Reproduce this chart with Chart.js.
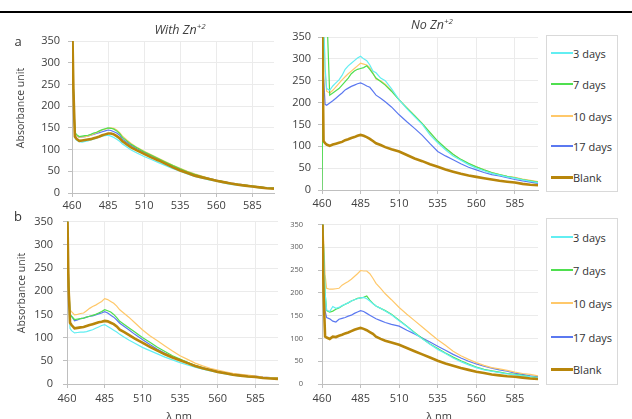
<!DOCTYPE html>
<html><head><meta charset="utf-8">
<script src="https://cdn.jsdelivr.net/npm/chart.js@4.4.0/dist/chart.umd.min.js"></script>
<style>
html,body{margin:0;padding:0;background:#fff;overflow:hidden;width:632px;height:419px;font-family:"Open Sans",sans-serif;color:#333}
#root{position:relative;width:632px;height:419px;overflow:hidden}
canvas{position:absolute}
.t{position:absolute;transform:translate(-50%,-50%);white-space:nowrap;line-height:1}
.ttl{font-style:italic;font-size:12.5px;color:#404040}
.ttl sup{font-size:8px;vertical-align:5px}
.pl{font-size:13px;color:#333}
.yt{font-size:10.5px;color:#404040;transform:translate(-50%,-50%) rotate(-90deg)}
.xt{font-size:11px;color:#404040}
.lg{position:absolute;border:1px solid #d9d9d9;box-sizing:border-box;background:#fff}
.li{position:absolute;left:4px;height:14px;display:flex;align-items:center;font-size:11px;color:#333;white-space:nowrap}
.li i{display:inline-block;width:22px;margin-right:0}
.rule{position:absolute;left:0;top:11px;width:632px;height:2px;background:#000}
</style></head><body>
<div id="root"><div class="rule"></div></div>
<script>
// ---------- data ----------
const wavelengths = [460,461,462,463,465,467,469,471,473,475,477,479,481,483,485,487,489,491,493,495,498,501,505,510,515,520,525,530,535,540,545,550,555,560,565,570,575,580,585,590,595,600];
const xTicks = [460,485,510,535,560,585];
const seriesNames = ['3 days','7 days','10 days','17 days','Blank'];

// a) With Zn+2
const withZnA_3d  = [420,230,128,122,118,117,119,120,122,124,126,129,131,132,133,131,128,124,119,113,106,99,92,84,77,70,63,56,50,44,38,34,30,27,23,20,18,16,14,12,11,10];
const withZnA_7d  = [420,240,140,135,130,131,132,133,135,138,140,143,146,148,150,149,147,143,137,128,120,112,104,95,87,79,71,63,56,49,43,38,33,29,26,22,20,18,16,14,12,11];
const withZnA_10d = [420,240,138,133,128,129,130,131,133,136,139,142,145,147,149,150,149,145,139,131,122,114,105,96,88,80,72,64,57,50,44,39,34,30,26,23,21,18,16,14,12,11];
const withZnA_17d = [420,240,137,132,128,129,130,131,133,135,137,139,141,143,145,144,141,138,133,124,117,110,102,94,86,78,70,62,55,49,43,38,34,30,26,23,21,18,16,14,12,11];
const withZnA_blank=[420,235,130,125,120,121,122,123,124,126,128,130,133,135,137,137,135,131,126,119,112,105,98,90,82,75,67,59,52,46,40,36,32,28,25,22,19,17,15,13,11,10];

// a) No Zn+2
const noZnA_3d  = [420,400,280,232,228,238,245,252,262,276,284,290,296,302,306,300,296,286,272,268,256,250,232,206,186,168,150,126,108,92,78,68,58,50,44,38,34,30,27,23,20,17];
const noZnA_7d  = [0,420,420,420,217,222,227,232,240,248,256,266,272,276,278,280,284,276,266,256,248,240,226,206,188,170,152,132,112,96,82,70,61,53,46,40,35,31,28,24,21,18];
const noZnA_10d = [420,400,270,226,222,228,236,244,252,259,266,272,278,284,290,288,286,280,268,254,250,242,228,206,188,170,152,130,110,95,81,70,60,53,46,40,35,31,29,25,22,19];
const noZnA_17d = [420,260,196,194,199,204,210,216,222,229,233,237,240,243,245,242,238,235,226,217,210,202,190,172,156,141,125,106,88,78,69,60,52,46,40,35,32,28,24,21,18,15];
const noZnA_blank=[420,112,107,104,101,104,106,108,110,114,116,119,121,124,126,124,121,117,112,107,103,98,93,88,80,72,66,59,53,47,42,37,33,30,27,24,21,19,17,14,12,11];

// b) With Zn+2
const withZnB_3d  = [420,200,120,115,110,111,112,112,113,115,117,120,123,126,128,124,120,116,112,107,101,95,88,79,72,65,58,52,46,41,36,32,28,25,22,19,17,16,15,13,12,11];
const withZnB_7d  = [420,230,150,146,139,140,141,142,144,146,148,150,153,156,160,158,155,150,143,135,128,121,112,100,90,79,70,61,54,47,40,35,30,26,23,20,18,16,15,13,12,12];
const withZnB_10d = [420,240,160,156,149,150,152,153,158,163,167,170,174,178,184,182,178,174,168,160,152,144,132,117,104,93,82,71,61,53,45,39,34,30,26,23,21,19,17,15,14,13];
const withZnB_17d = [420,230,150,146,136,138,141,142,144,146,147,149,151,153,156,153,148,144,138,131,124,117,107,96,85,75,66,58,52,46,40,35,31,28,25,22,20,18,17,15,14,13];
const withZnB_blank=[420,210,132,127,120,121,122,123,125,127,129,131,133,134,136,135,132,129,124,117,112,106,98,89,80,72,64,57,51,45,39,34,30,26,23,20,18,16,15,13,12,11];

// b) No Zn+2
const noZnB_3d  = [420,300,200,162,159,170,166,168,172,175,178,182,185,187,189,190,187,182,176,171,166,160,152,139,126,112,99,87,76,67,57,49,42,36,31,28,25,22,20,18,16,14];
const noZnB_7d  = [420,300,200,161,158,160,164,167,171,175,178,182,185,188,189,190,193,184,177,171,166,161,153,140,127,113,100,88,78,68,59,51,44,37,32,29,26,23,21,19,16,14];
const noZnB_10d = [420,320,240,210,208,208,209,210,217,221,225,230,236,242,249,248,248,242,232,221,210,198,185,168,153,139,125,111,97,85,72,62,54,47,41,36,33,30,26,23,21,18];
const noZnB_17d = [420,260,160,146,143,138,136,142,144,146,149,151,155,158,161,159,155,151,147,143,139,135,131,127,118,110,101,92,83,74,65,57,50,44,39,35,31,28,24,21,18,16];
const noZnB_blank=[420,200,104,102,99,104,103,106,108,111,113,116,119,121,123,121,118,114,110,104,99,95,91,86,79,72,65,58,51,45,40,35,31,27,24,21,19,17,16,14,12,11];

// ---------- styling ----------
const seriesColors = ['#62eef2','#4fdf4f','#ffc86a','#5b78f0','#b8860b'];
const seriesWidths = [1.2,1.2,1.2,1.2,2.6];
const FONT = 'Open Sans';
const root = document.getElementById('root');

function addText(cls, html, x, y){
  const d=document.createElement('div'); d.className='t '+cls; d.innerHTML=html;
  d.style.left=x+'px'; d.style.top=y+'px'; root.appendChild(d); return d;
}

function makePanel(series, L){
  const c=document.createElement('canvas');
  c.width=L.w; c.height=L.h; c.style.left=L.left+'px'; c.style.top=L.top+'px';
  c.style.width=L.w+'px'; c.style.height=L.h+'px';
  root.appendChild(c);
  new Chart(c.getContext('2d'),{
    type:'line',
    data:{datasets: series.map((vals,i)=>({
      label: seriesNames[i],
      data: wavelengths.map((w,j)=>({x:w,y:vals[j]})),
      borderColor: seriesColors[i], backgroundColor: seriesColors[i],
      borderWidth: seriesWidths[i], pointRadius:0, tension:0, fill:false,
      order: i===4 ? 0 : 1
    }))},
    options:{
      responsive:false, animation:false, devicePixelRatio:1,
      layout:{padding:{top:L.padTop,right:L.padRight,left:0,bottom:0}},
      plugins:{legend:{display:false},tooltip:{enabled:false},title:{display:false}},
      scales:{
        x:{type:'linear',min:460,max:600,
           afterBuildTicks:a=>{a.ticks=xTicks.map(v=>({value:v}));},
           afterFit:s=>{s.height=L.xh;},
           grid:{color:'#ebebeb',tickColor:'#bfbfbf',tickLength:4,lineWidth:1},
           border:{color:'#bfbfbf',width:1},
           ticks:{padding:L.xpad,color:'#404040',font:{family:FONT,size:11},maxRotation:0,autoSkip:false}},
        y:{min:0,max:350,
           afterFit:s=>{s.width=L.yw;},
           grid:{color:'#ebebeb',tickColor:'#bfbfbf',tickLength:4,lineWidth:1},
           border:{color:'#bfbfbf',width:1},
           ticks:{stepSize:50,padding:L.ypad,color:L.yColor||'#404040',font:{family:FONT,size:L.yFont||11}}}
      }
    }
  });
}

function makeLegend(left, top, width, height, ys){
  const b=document.createElement('div'); b.className='lg';
  b.style.left=left+'px'; b.style.top=top+'px'; b.style.width=width+'px'; b.style.height=height+'px';
  seriesNames.forEach((n,i)=>{
    const it=document.createElement('div'); it.className='li';
    it.style.top=(ys[i]-top-7)+'px';
    const sw=document.createElement('i'); sw.style.height=(i===4?3:2)+'px'; sw.style.background=seriesColors[i];
    it.appendChild(sw); it.appendChild(document.createTextNode(n));
    b.appendChild(it);
  });
  root.appendChild(b);
}

// panels
makePanel([withZnA_3d,withZnA_7d,withZnA_10d,withZnA_17d,withZnA_blank],
  {left:0,top:20,w:300,h:195,padTop:21,padRight:26,yw:72,xh:22,xpad:2,ypad:8});
makePanel([noZnA_3d,noZnA_7d,noZnA_10d,noZnA_17d,noZnA_blank],
  {left:280,top:20,w:265,h:195,padTop:17,padRight:7,yw:42,xh:25,xpad:3,ypad:7});
makePanel([withZnB_3d,withZnB_7d,withZnB_10d,withZnB_17d,withZnB_blank],
  {left:0,top:205,w:300,h:214,padTop:13,padRight:22,yw:67,xh:35,xpad:4,ypad:10});
makePanel([noZnB_3d,noZnB_7d,noZnB_10d,noZnB_17d,noZnB_blank],
  {left:280,top:205,w:265,h:214,padTop:14,padRight:7,yw:42,xh:35,xpad:4,ypad:15,yFont:7.5,yColor:'#595959'});

// texts
addText('ttl','With Zn<sup>+2</sup>',180,29);
addText('ttl','No Zn<sup>+2</sup>',432,24);
addText('pl','a',18,41);
addText('pl','b',18,216);
addText('yt','Absorbance unit',20,108);
addText('yt','Absorbance unit',21,293);
addText('xt','λ nm',179,415);
addText('xt','λ nm',439,415);

makeLegend(546,35,72,157,[52,83,115,145,176]);
makeLegend(546,218,72,167,[236,269,302,336,368]);
</script>
</body></html>
